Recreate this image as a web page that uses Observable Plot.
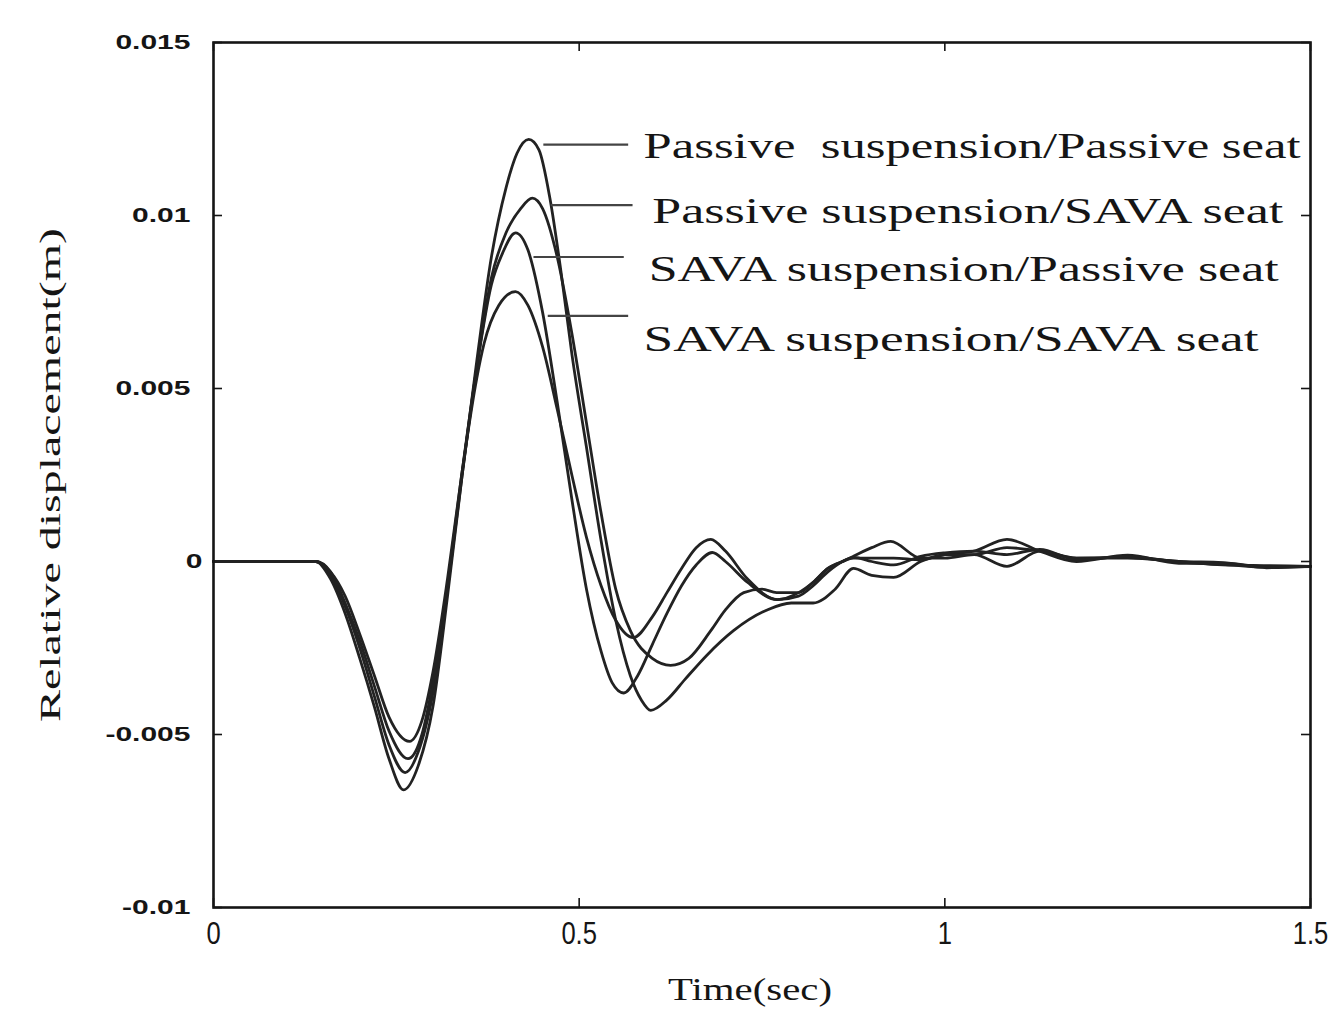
<!DOCTYPE html>
<html><head><meta charset="utf-8">
<script src="https://cdn.jsdelivr.net/npm/d3@7"></script>
<script src="https://cdn.jsdelivr.net/npm/@observablehq/plot@0.6"></script>
<style>
body{margin:0;background:#fff}
svg text{white-space:pre}
</style>
</head><body><div id="chart"></div>
<script>
// ---- data ----
const seriesNames = ["Passive suspension/Passive seat","Passive suspension/SAVA seat","SAVA suspension/Passive seat","SAVA suspension/SAVA seat"];

const timePP = [0,0.10,0.14,0.16,0.18,0.20,0.22,0.24,0.26,0.28,0.30,0.32,0.34,0.36,0.38,0.40,0.415,0.431,0.445,0.46,0.475,0.49,0.51,0.53,0.55,0.57,0.585,0.598,0.62,0.645,0.675,0.711,0.757,0.79,0.82,0.85,0.875,0.90,0.93,0.967,1.0,1.04,1.085,1.13,1.18,1.25,1.32,1.38,1.44,1.5];
const dispPP = [0,0,0,-0.0005,-0.0015,-0.0028,-0.0042,-0.0057,-0.0066,-0.0059,-0.0042,-0.0010,0.0025,0.0058,0.0088,0.0108,0.0118,0.0122,0.0119,0.0105,0.0084,0.0060,0.0033,0.0006,-0.0017,-0.0033,-0.0040,-0.0043,-0.0040,-0.0034,-0.0027,-0.0020,-0.0014,-0.0012,-0.0012,-0.0008,-0.0002,-0.0004,-0.00046,0.0,0.0002,0.0003,0.00064,0.0003,0.0,0.00018,-0.00005,-0.00005,-0.00018,-0.00014];

const timePS = [0,0.10,0.14,0.16,0.18,0.20,0.22,0.24,0.262,0.28,0.30,0.32,0.34,0.36,0.38,0.40,0.42,0.436,0.45,0.47,0.49,0.51,0.53,0.55,0.57,0.60,0.625,0.65,0.68,0.70,0.725,0.75,0.77,0.80,0.82,0.84,0.86,0.875,0.90,0.926,0.967,1.0,1.04,1.085,1.13,1.18,1.25,1.32,1.38,1.44,1.5];
const dispPS = [0,0,0,-0.0004,-0.0013,-0.0025,-0.0039,-0.0053,-0.0061,-0.0055,-0.0038,-0.0008,0.0025,0.0056,0.0082,0.0095,0.0102,0.0105,0.0102,0.0088,0.0066,0.0040,0.0014,-0.0008,-0.0020,-0.0028,-0.0030,-0.0028,-0.0020,-0.0014,-0.0009,-0.0008,-0.0009,-0.0009,-0.0006,-0.0002,0.0000,0.00015,0.0004,0.00058,0.0001,0.0001,0.0002,-0.00014,0.0003,0.0001,0.0001,0.0,-0.0001,-0.00012,-0.00014];

const timeSP = [0,0.10,0.14,0.16,0.18,0.20,0.22,0.24,0.266,0.285,0.30,0.32,0.34,0.36,0.38,0.395,0.413,0.43,0.45,0.47,0.49,0.51,0.53,0.545,0.561,0.58,0.60,0.62,0.64,0.66,0.682,0.70,0.73,0.771,0.80,0.82,0.84,0.86,0.875,0.90,0.93,0.967,1.0,1.04,1.085,1.13,1.18,1.25,1.32,1.38,1.44,1.5];
const dispSP = [0,0,0,-0.0003,-0.0012,-0.0023,-0.0036,-0.0049,-0.0057,-0.0050,-0.0035,-0.0007,0.0026,0.0056,0.0080,0.0089,0.0095,0.0090,0.0072,0.0046,0.0018,-0.0008,-0.0026,-0.0035,-0.0038,-0.0033,-0.0024,-0.0015,-0.0007,-0.0001,0.00026,0.0000,-0.0006,-0.0011,-0.0009,-0.0006,-0.0002,0.0000,0.0001,0.0001,0.0001,0.00005,0.0002,0.0002,0.0004,0.0003,0.0001,0.00012,0.0,-0.00003,-0.00015,-0.00014];

const timeSS = [0,0.10,0.14,0.16,0.18,0.20,0.22,0.24,0.268,0.285,0.30,0.32,0.34,0.36,0.37,0.39,0.413,0.43,0.45,0.47,0.49,0.51,0.53,0.55,0.574,0.60,0.62,0.64,0.66,0.68,0.70,0.73,0.771,0.80,0.82,0.84,0.86,0.875,0.90,0.93,0.967,1.0,1.04,1.085,1.13,1.18,1.25,1.32,1.38,1.44,1.5];
const dispSS = [0,0,0,-0.0003,-0.0010,-0.0021,-0.0033,-0.0045,-0.0052,-0.0046,-0.0032,-0.0005,0.0026,0.0053,0.0063,0.0074,0.0078,0.0074,0.0062,0.0044,0.0025,0.0007,-0.0007,-0.0017,-0.0022,-0.0016,-0.0009,-0.0002,0.0004,0.00064,0.0003,-0.0005,-0.0011,-0.0010,-0.0007,-0.0003,0.0000,0.00012,0.0000,-0.0001,0.00015,0.00025,0.0003,0.0002,0.00035,0.00005,0.00015,-0.00002,-0.00008,-0.00016,-0.00015];

const xTicks = [0, 0.5, 1, 1.5];
const yTicks = [-0.01, -0.005, 0, 0.005, 0.01, 0.015];

// annotation (leader lines + labels), in data units
const legendLabels = ["Passive  suspension/Passive seat","Passive suspension/SAVA seat","SAVA suspension/Passive seat","SAVA suspension/SAVA seat"];
const leaderLevel = [0.01205, 0.0103, 0.0088, 0.0071];
const leaderFrom = [0.451, 0.461, 0.4375, 0.457];
const leaderTo = [0.567, 0.573, 0.561, 0.567];
const labelTime = [0.588, 0.600, 0.595, 0.588];
const labelLevel = [0.0120, 0.01012, 0.00844, 0.00642];

// ---- build tables ----
const seriesTimes = [timePP, timePS, timeSP, timeSS];
const seriesDisp = [dispPP, dispPS, dispSP, dispSS];
const rows = [];
seriesNames.forEach((name, i) => {
  seriesTimes[i].forEach((t, j) => rows.push({series: name, t, v: seriesDisp[i][j]}));
});
const legendRows = legendLabels.map((label, i) => ({
  label, x1: leaderFrom[i], x2: leaderTo[i], ly: leaderLevel[i], tx: labelTime[i], ty: labelLevel[i]
}));

// ---- layout ----
const W = 1337, H = 1020, mL = 213, mR = 27, mT = 42, mB = 113;
const plotW = W - mL - mR, plotH = H - mT - mB;
const ink = "#151515";
const tickLen = 9;
const serif = "Liberation Serif, Times New Roman, serif";

const chart = Plot.plot({
  width: W, height: H,
  marginLeft: mL, marginRight: mR, marginTop: mT, marginBottom: mB,
  style: {background: "#fff", color: ink, fontFamily: "Liberation Sans, Arial, sans-serif"},
  x: {domain: [0, 1.5]},
  y: {domain: [-0.01, 0.015]},
  marks: [
    Plot.tickX(xTicks, {x: d => d, insetTop: plotH - tickLen, stroke: ink, strokeWidth: 1.6}),
    Plot.tickX(xTicks, {x: d => d, insetBottom: plotH - tickLen, stroke: ink, strokeWidth: 1.6}),
    Plot.tickY(yTicks, {y: d => d, insetRight: plotW - tickLen, stroke: ink, strokeWidth: 1.6}),
    Plot.tickY(yTicks, {y: d => d, insetLeft: plotW - tickLen, stroke: ink, strokeWidth: 1.6}),
    Plot.axisX({ticks: xTicks, tickSize: 0, tickPadding: 14, tickFormat: d => String(d), fontSize: 32, label: null}),
    Plot.axisY({ticks: yTicks, tickSize: 0, tickPadding: 23, tickFormat: d => String(d), fontSize: 20, fontWeight: "bold", label: null}),
    Plot.line(rows, {x: "t", y: "v", z: "series", stroke: "#222", strokeWidth: 2.8, curve: "monotone-x"}),
    Plot.link(legendRows, {x1: "x1", x2: "x2", y1: "ly", y2: "ly", stroke: "#444", strokeWidth: 2.2}),
    Plot.text(legendRows, {x: "tx", y: "ty", text: "label", textAnchor: "start", fontSize: 36, fontFamily: serif, fill: ink}),
    Plot.text(["Time(sec)"], {frameAnchor: "bottom", dy: 92, dx: -12, textAnchor: "middle", text: d => d, fontSize: 32, fontFamily: serif, fill: ink}),
    Plot.text(["Relative displacement(m)"], {frameAnchor: "left", dx: -163, rotate: -90, textAnchor: "middle", text: d => d, fontSize: 30, fontFamily: serif, fill: ink}),
    Plot.frame({stroke: ink, strokeWidth: 2.6})
  ]
});
document.getElementById("chart").appendChild(chart);

// ---- stretch text horizontally like the scanned figure ----
const targetWidths = {
  "Passive  suspension/Passive seat": 657,
  "Passive suspension/SAVA seat": 631,
  "SAVA suspension/Passive seat": 630,
  "SAVA suspension/SAVA seat": 615,
  "Time(sec)": 164,
  "Relative displacement(m)": 494
};
const svg = d3.select(chart);
svg.selectAll("text").each(function() {
  const s = this.textContent;
  const target = targetWidths[s];
  if (!target) return;
  const sel = d3.select(this);
  const anchor = getComputedStyle(this).textAnchor || sel.attr("text-anchor");
  if (anchor === "middle") {
    sel.attr("text-anchor", "start").style("text-anchor", "start")
       .attr("x", (+sel.attr("x") || 0) - target / 2);
  }
  sel.attr("textLength", target).attr("lengthAdjust", "spacingAndGlyphs");
});
svg.selectAll('g[aria-label="y-axis tick label"] text').each(function() {
  const w = this.getComputedTextLength();
  const sel = d3.select(this);
  sel.attr("textLength", w * 1.5).attr("lengthAdjust", "spacingAndGlyphs");
  if (this.textContent === "0") sel.attr("dx", 12);
});
svg.selectAll('g[aria-label="x-axis tick label"] text').each(function() {
  const w = this.getComputedTextLength();
  d3.select(this).attr("textLength", w * 0.8).attr("lengthAdjust", "spacingAndGlyphs");
});
</script>
</body></html>
